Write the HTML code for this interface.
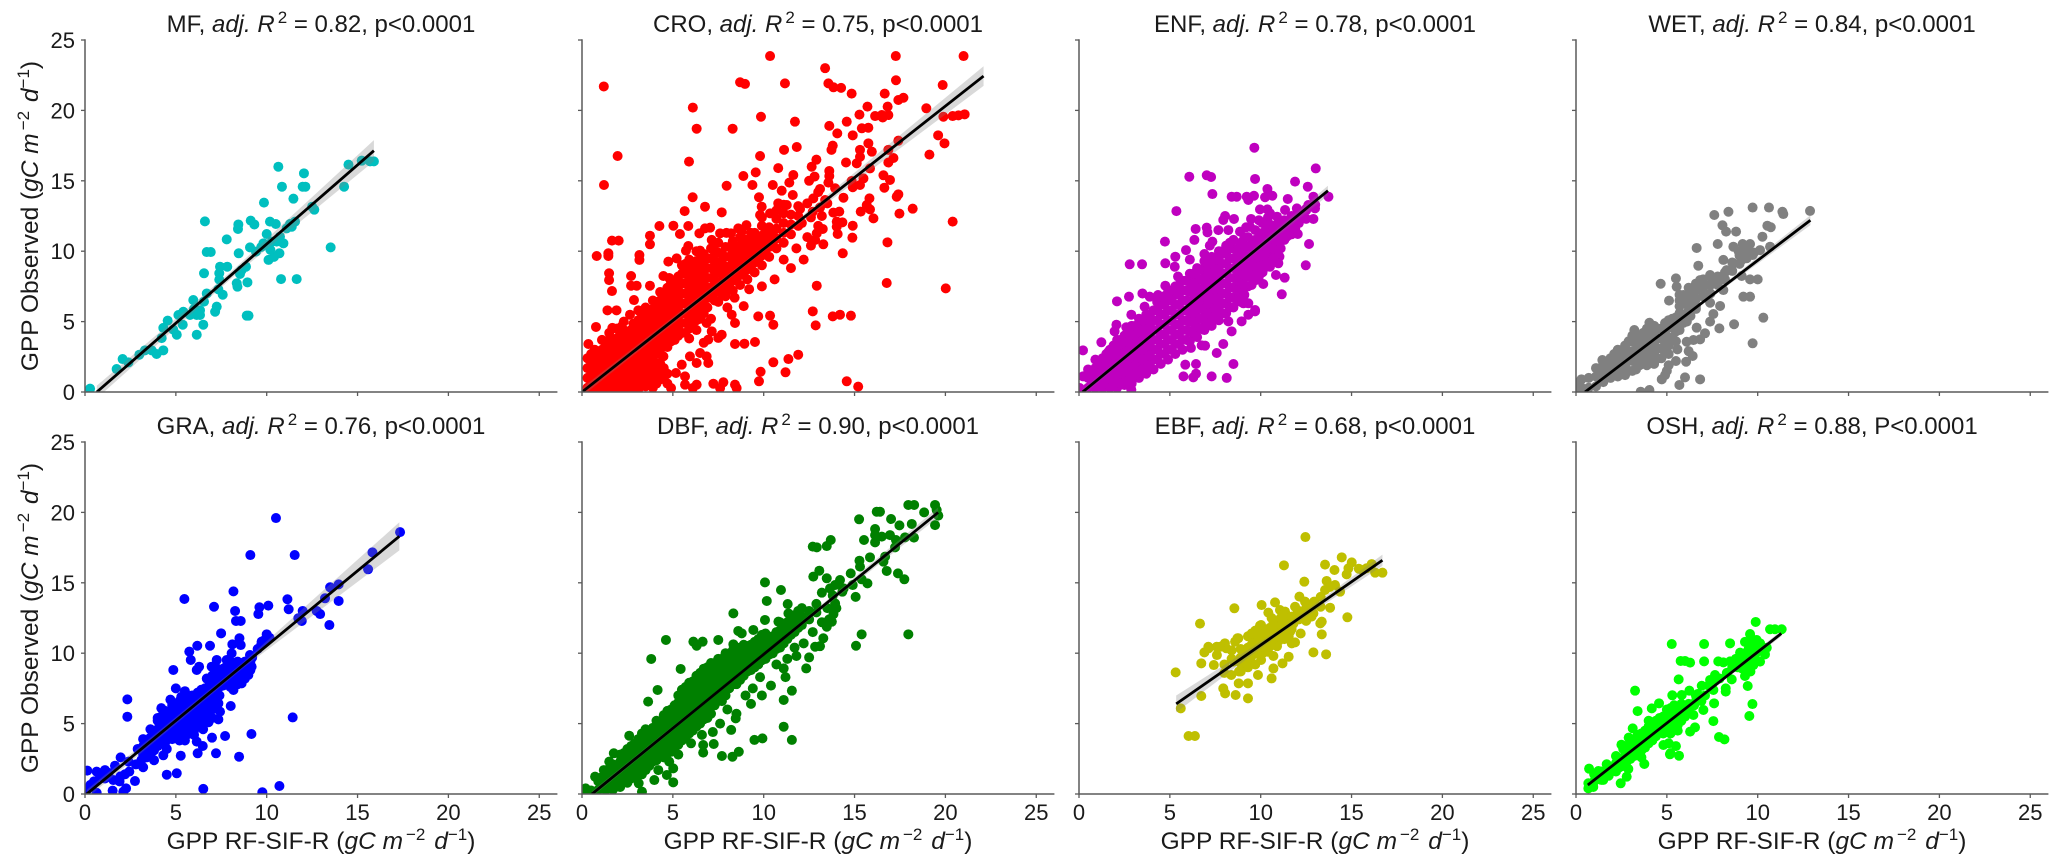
<!DOCTYPE html>
<html lang="en">
<head>
<meta charset="utf-8">
<title>GPP observed versus GPP RF-SIF-R by land cover</title>
<style>
html,body{margin:0;padding:0;background:#fff;}
svg{display:block;font-family:"Liberation Sans",sans-serif;fill:#1a1a1a;}
text{font-size:22px;}
</style>
</head>
<body>
<svg id="chart" width="2067" height="867" viewBox="0 0 2067 867" xmlns="http://www.w3.org/2000/svg"></svg>
<script>
const xTicks = [0,5,10,15,20,25];
const yTicks = [0,5,10,15,20,25];

const mfPoints = [[10.64,16],[12.05,15.53],[10.84,14.58],[11.98,14.58],[12.13,14.58],[11.47,13.73],[9.85,13.45],[12.5,13.16],[12.62,12.95],[14.5,16.15],[14.26,14.58],[15.23,16.43],[15.69,16.38],[15.9,16.38],[13.52,10.27],[6.6,12.12],[8.44,11.9],[8.42,11.58],[9.12,12.17],[9.32,11.9],[10.18,12.1],[10.5,11.93],[11.28,11.93],[11.56,12.1],[11.38,11.74],[11.1,11.62],[10,11.22],[7.8,10.84],[9.82,10.56],[10.73,11.03],[10.55,10.68],[10.92,10.56],[10.28,10.68],[9.08,10.27],[9.41,9.97],[6.7,9.94],[6.92,9.94],[8.46,9.85],[10.7,9.85],[10.4,9.6],[10.1,9.38],[10.2,10.1],[9.7,10.3],[7.43,8.9],[7.83,8.9],[8.86,8.9],[8.62,8.66],[7.39,8.43],[6.55,8.43],[8.53,8.38],[10.79,8.02],[11.65,8.02],[7.39,7.98],[8.35,7.72],[8.94,7.79],[8.39,7.48],[7.34,7.29],[7.58,6.91],[6.7,7],[5.96,6.53],[6.55,6.42],[7.25,6.06],[7.16,5.7],[8.9,5.42],[9,5.42],[5.41,5.7],[5.14,5.47],[5.78,5.47],[6.15,5.47],[6.33,5.47],[4.55,5.07],[6.33,5.8],[6,5.9],[6.51,4.78],[6.15,4.07],[5.05,4.07],[4.86,4.43],[5.38,4.78],[4.31,4.55],[4.22,3.83],[4.31,2.96],[3.94,2.7],[3.67,2.96],[3.3,2.96],[2.99,2.65],[2.39,2.1],[2.07,2.34],[1.74,1.63],[0.28,0.24]];
const mfFitX = [0.65,15.9];
const mfFitY = [0,17.14];
const mfCi = [0.45,0.25,0.75];

const croPoints = [[1.2,21.7],[10.35,23.86],[8.7,22],[8.97,21.88],[11.17,21.92],[6.1,20.2],[9.85,19.55],[11.72,19.2],[6.31,18.7],[8.29,18.7],[1.96,16.76],[9.8,16.76],[11.12,17.2],[11.82,17.4],[5.89,16.36],[10.8,15.9],[9.56,15.6],[8.88,15.34],[1.21,14.7],[7.96,14.65],[9.38,14.7],[10.5,14.7],[11.41,14.87],[11.63,15.41],[10.99,14.3],[6.09,13.83],[6.77,13.16],[5.65,12.85],[7.69,12.76],[9.74,13.83],[9.89,13.16],[9.8,12.57],[10.8,13.4],[11.27,13.28],[10.35,12.69],[11.6,13.99],[4.26,11.79],[5.03,11.81],[5.85,11.79],[5.39,11.22],[3.74,11.1],[3.74,10.49],[6.46,11.27],[6.77,11.62],[7.05,11.67],[7.14,10.8],[7.6,11.27],[7.95,11.3],[8.2,11.27],[8.6,11.62],[9.05,11.85],[8.8,11.4],[9,10.8],[9.3,11.3],[1.65,10.75],[2.02,10.75],[1.45,9.85],[0.81,9.66],[1.45,9.66],[3.16,9.73],[3.16,9.38],[5.85,10.37],[5.72,10.04],[5.21,9.49],[4.75,9.26],[6.5,10.04],[1.49,8.43],[1.49,7.95],[1.65,7.17],[2.7,8.24],[2.7,7.55],[3.01,7.55],[2.86,6.53],[3.74,7.55],[4.48,8.24],[4.8,8.1],[5.6,8.4],[5.85,8.6],
[17.27,23.86],[21,23.86],[13.38,23],[13.56,21.92],[13.84,21.64],[14.26,21.6],[14.84,21.19],[17.28,22.14],[19.85,21.8],[16.66,21.19],[17.69,20.9],[17.41,20.74],[15.71,20.27],[16.82,20.27],[18.95,20.15],[15.27,19.7],[16.13,19.6],[16.5,19.67],[16.86,19.67],[16.55,19.5],[19.89,19.55],[20.4,19.6],[20.72,19.65],[21.06,19.72],[13.61,18.9],[14.57,19.2],[14.05,18.37],[14.9,18.23],[15.4,18.73],[15.76,18.77],[19.6,18.23],[19.95,17.66],[17.41,17.85],[13.8,17.5],[13.73,17.2],[15.76,17.66],[15.3,17.2],[15.95,17.07],[16.86,17.2],[19.12,16.86],[15.3,16.7],[15.12,16.24],[14.53,16.3],[17.14,16.62],[16.86,16.3],[12.9,16.5],[12.64,16],[13.61,15.7],[12.8,15.3],[13.61,15.34],[15.85,15.88],[15.49,15.17],[16.59,15.39],[16.95,15.06],[16.64,14.51],[14.84,14.99],[15.3,14.7],[14.9,14.54],[13.93,14.47],[13.1,14.42],[13.56,14.87],[17.41,14.04],[17.32,13.87],[15.82,13.75],[14.39,13.8],[13.38,13.64],[12.73,13.75],[18.2,13.02],[15.67,13.28],[15.85,12.97],[15.34,12.81],[17.47,12.67],[16.04,12.33],[13.83,12.74],[14.16,12.81],[20.4,12.1],[14.02,12.1],[14.33,12.05],[14.9,11.81],[14.02,11.74],[14.07,11.22],[13.25,11.58],[12.92,11.27],[14.88,10.96],[13.28,10.49],[12.83,10.8],[16.81,10.63],[14.35,9.85],[12.92,7.55],[16.77,7.74],[20.02,7.36],[12.7,12.8],[13.1,13.1],[13.5,13.4],
[0.77,4.62],[0.35,3.41],[1.67,4.55],[2.18,4.66],[2.83,4.85],[3.47,5.02],[2.64,5.49],[1.4,5.8],[1.9,5.8],[6.86,4.9],[7.14,4.31],[7.69,4.07],[7.5,3.84],[6.95,3.72],[8.24,5.49],[8.42,4.9],[8.42,3.41],[8.94,3.43],[9.52,3.55],[9.7,5.37],[10.35,5.42],[10.53,4.78],[10.53,2.11],[11.36,2.34],[11.9,2.65],[9.83,1.44],[11.2,1.4],[9.74,0.76],[6.31,0.52],[6.1,0.28],[7.23,0.59],[7.78,0.69],[7.6,0.28],[8.42,0.52],[8.51,0.28],[5.67,0.52],[4.9,0.28],[6.95,2.06],[6.31,2.06],[6.86,2.53],[6.5,2.77],[5.94,2.53],[5.49,1.94],[5.17,1.35],[5.67,1.11],[4.48,2.53],[4.3,2.05],[14.57,0.76],[15.2,0.38],[13.8,5.37],[14.2,5.49],[14.8,5.42],[12.86,4.73],[12.7,5.73],
[7.4,9.1],[7.8,7.2],[8,8.7],[8,6],[8.1,7.7],[8.4,6.7],[8.9,6.1],[9.2,7.3],[9.9,7.5],[10.6,8],[11.1,9.4],[11.5,8.8],[11.8,10.2],[12.2,9.4],[12.4,11],[12.5,15],[12.6,10.4],[13,11.8],[13,14.2],[13.2,12.5],[12.4,13.4],[12,13],[12.1,12],[12.6,12.4]];
const croCoreColumns = [[0.3,[0.3,1,1.7,2.4]],[0.7,[0.2,0.9,1.6,2.3,3]],[1.1,[0.2,0.9,1.6,2.3,3,3.7]],[1.5,[0.2,0.9,1.6,2.3,3,3.7,4.2]],[1.9,[0.3,1,1.7,2.4,3.1,3.8,4.5]],[2.3,[0.2,0.9,1.6,2.3,3,3.7,4.4,5]],[2.7,[0.3,1,1.7,2.4,3.1,3.8,4.4]],[3.1,[0.2,0.9,1.6,2.3,3,3.7,4.4,5.1,5.8]],[3.5,[0.4,1.1,1.8,2.5,3.2,3.9,4.6,5.3,6]],[3.9,[0.3,1,1.7,2.4,3.1,3.8,4.5,5.2,5.9,6.5]],[4.3,[0.9,1.6,3,3.7,4.4,5.1,5.8,6.5,7.1]],[4.7,[0.6,1.3,3.2,3.9,4.6,5.3,6,6.7,7.4]],[5.1,[3.7,4.4,5.1,5.8,6.5,7.2,7.9]],[5.5,[4.2,4.9,5.6,6.3,7,7.7,8.4,9]],[5.9,[3.8,4.5,5.2,5.9,6.6,7.3,8,8.7,9.4]],[6.3,[4.4,5.1,5.8,6.5,7.2,7.9,8.6,9.3,10]],[6.7,[3.5,5.6,6.3,7,7.7,8.4,9.1,9.8]],[7.1,[5.2,6.7,7.4,8.1,8.8,9.5,10.2]],[7.5,[6.4,7.1,7.8,8.5,9.2,9.9,10.6]],[7.9,[6.8,7.5,8.2,8.9,9.6,10.3]],[8.3,[7.2,7.9,8.6,9.3,10,10.7]],[8.7,[7.6,8.3,9,9.7,10.4,11]],[9.1,[8,8.7,9.4,10.1,10.8]],[9.5,[8.5,9.2,9.9,10.6,11.3]],[9.9,[9,9.7,10.4,11.1,11.8,12.4]],[10.3,[9.6,10.3,11,11.7]],[10.7,[10.2,10.9,11.6,12.3,12.9]],[11.1,[10.6,11.3,12,12.7,13.3]],[11.5,[11.2,11.9,12.6]],[11.9,[11.8,12.5,13.2]]];
const croFillColumns = [[0.5,[0.6,1.3,2,2.7]],[0.9,[0.6,1.3,2,2.7]],[1.3,[0.6,1.3,2,2.7,3.4]],[1.7,[0.6,1.3,2,2.7,3.4]],[2.1,[0.6,1.3,2,2.7,3.4,4.1]],[2.5,[0.6,1.3,2,2.7,3.4,4.1]],[2.9,[0.6,1.3,2,2.7,3.4,4.1,4.8]],[3.3,[0.6,1.3,2,2.7,3.4,4.1,4.8,5.5]],[3.7,[0.7,1.4,2.1,2.8,3.5,4.2,4.9,5.6]],[4.1,[0.6,1.3,2,2.7,3.4,4.1,4.8,5.5,6.2]],[4.5,[1,1.7,3.5,4.2,4.9,5.6,6.3,7]],[4.9,[3.6,4.3,5,5.7,6.4,7.1,7.8]],[5.3,[4,4.7,5.4,6.1,6.8,7.5,8.2]],[5.7,[4.2,4.9,5.6,6.3,7,7.7,8.4,9.1]],[6.1,[4.8,5.5,6.2,6.9,7.6,8.3,9]],[6.5,[5.2,5.9,6.6,7.3,8,8.7,9.4]],[6.9,[6,6.7,7.4,8.1,8.8,9.5]],[7.3,[6.5,7.2,7.9,8.6,9.3,10]],[7.7,[7,7.7,8.4,9.1,9.8]],[8.1,[7.5,8.2,8.9,9.6,10.3]],[8.5,[8,8.7,9.4,10.1]],[8.9,[8.4,9.1,9.8,10.5]],[9.3,[8.8,9.5,10.2,10.9]],[9.7,[9.4,10.1,10.8]],[10.1,[10,10.7,11.4]],[10.5,[10.6,11.3]]];
const croFitX = [0,22.1];
const croFitY = [0,22.44];
const croCi = [0.3,0.15,0.7];

const enfPoints = [[9.65,17.35],[13.03,15.88],[6.07,15.29],[7.03,15.39],[7.27,15.27],[9.69,15.13],[11.89,14.94],[12.59,14.58],[7.34,14.06],[8.4,13.87],[8.68,13.87],[9.23,13.87],[9.63,13.94],[9.32,13.64],[10.37,14.42],[10.64,13.94],[10.24,13.83],[12.9,13.87],[13.73,13.87],[11.49,13.71],[9.96,12.97],[10.37,12.97],[11.34,12.93],[11.99,13.04],[12.62,13.28],[12.99,13.04],[8.04,12.5],[7.94,12.22],[8.53,12.29],[9.47,12.29],[12.9,12.29],[10.51,12.69],[10.9,12.45],[12.26,12.45],[7.03,11.67],[7.07,11.34],[6.42,11.58],[7.67,11.5],[8.22,11.5],[8.86,11.39],[9.41,11.74],[12.04,11.22],[6.35,10.8],[7.34,10.68],[11.16,10.84],[11.39,10.98],[12.66,10.51],[5.89,10.08],[10.6,10.2],[11.03,9.61],[12.48,9],[10.97,9.14],[10.51,8.9],[10.84,8.31],[11.32,8.12],[9.78,8.31],[9.74,7.95],[10.14,7.67],[11.16,6.94],[9.32,6.3],[9.05,6.3],[9.69,5.82],[5.36,12.85],[4.73,10.68],[2.79,9.07],[3.47,9.07],[4.75,9.14],[5.3,9.61],[5.27,8.9],[5.45,8.2],[3.49,7],[2.75,6.77],[2.09,6.44],[4.75,7.55],[4.35,6.89],[3.89,6.77],[3.61,6.06],[0.22,2.96],[1.23,3.53],[1.6,2.82],[2.06,4.78],[1.96,4.31],[2.33,3.72],[2.88,5.49],[3.89,5.37],[2.6,4.6],[2.88,0.17],[0.22,1.11],[0.04,0.28],[8.13,1],[7.3,1.11],[8.5,1.99],[6.44,1.3],[6.29,1.04],[6.44,1.99],[5.85,1.94],[5.75,1.11],[6.94,3.29],[6.75,3.31],[6.16,3.13],[7.58,2.77],[7.94,3.41],[8.4,4.31],[8.95,5.02],[8.22,5.02],[9.69,5.73],[9.32,5.49],[9.9,12.2],[9.2,11.7],[10.4,12.4],[12.5,13],[13,13.3],[6.9,9.8],[6.1,9.4],[7.2,10.4],[7.9,10],[8.3,10.6],[8.8,10.2],[9.1,11],[9.6,10.6],[9.7,11.5]];
const enfCoreColumns = [[0.5,[0.3,1,1.6]],[0.9,[0.3,1,1.7,2.3]],[1.3,[0.3,1,1.7,2.4]],[1.7,[0.3,1,1.7,2.4,3]],[2.1,[0.3,1,1.7,2.4,3.1,3.7]],[2.5,[0.5,1.2,1.9,2.6,3.3,4]],[2.9,[0.6,1.3,2,2.7,3.4,4.1,4.7]],[3.3,[1,1.7,2.4,3.1,3.8,4.5,5.2]],[3.7,[1.3,2,2.7,3.4,4.1,4.8,5.5]],[4.1,[1.6,2.3,3,3.7,4.4,5.1,5.8]],[4.5,[2,2.7,3.4,4.1,4.8,5.5,6.2]],[4.9,[2.3,3,3.7,4.4,5.1,5.8,6.5,7.1]],[5.3,[2.7,3.4,4.1,4.8,5.5,6.2,6.9,7.5]],[5.7,[3,3.7,4.4,5.1,5.8,6.5,7.2,7.9]],[6.1,[3.6,4.3,5,5.7,6.4,7.1,7.8,8.4]],[6.5,[3.9,4.6,5.3,6,6.7,7.4,8.1,8.8]],[6.9,[4.4,5.1,5.8,6.5,7.2,7.9,8.6,9.3]],[7.3,[4.7,5.4,6.1,6.8,7.5,8.2,8.9,9.6]],[7.7,[5.1,5.8,6.5,7.2,7.9,8.6,9.3,10]],[8.1,[5.6,6.3,7,7.7,8.4,9.1,9.8,10.4]],[8.5,[6,6.7,7.4,8.1,8.8,9.5,10.2,10.8]],[8.9,[6.4,7.1,7.8,8.5,9.2,9.9,10.6]],[9.3,[7.5,8.2,8.9,9.6,10.3,11]],[9.7,[8,8.7,9.4,10.1,10.8]],[10.1,[8.5,9.2,9.9,10.6,11.3,12]],[10.5,[9.2,9.9,10.6,11.3,11.9]],[10.9,[9.8,10.5,11.2,11.9]],[11.3,[10.8,11.5,12.2]],[11.7,[11.2,11.9,12.5]],[12.1,[12,12.6]],[12.5,[12.3,12.9]]];
const enfFillColumns = [[0.7,[0.6,1.3]],[1.1,[0.6,1.3,2]],[1.5,[0.6,1.3,2,2.7]],[1.9,[0.6,1.3,2,2.7,3.3]],[2.3,[0.6,1.3,2,2.7,3.4]],[2.7,[0.8,1.5,2.2,2.9,3.6,4.3]],[3.1,[1.2,1.9,2.6,3.3,4,4.7]],[3.5,[1.6,2.3,3,3.7,4.4,5.1]],[3.9,[1.9,2.6,3.3,4,4.7,5.4]],[4.3,[2.3,3,3.7,4.4,5.1,5.8,6.4]],[4.7,[2.7,3.4,4.1,4.8,5.5,6.2,6.8]],[5.1,[3,3.7,4.4,5.1,5.8,6.5,7.2]],[5.5,[3.4,4.1,4.8,5.5,6.2,6.9,7.6]],[5.9,[3.7,4.4,5.1,5.8,6.5,7.2,7.9]],[6.3,[4.2,4.9,5.6,6.3,7,7.7,8.4]],[6.7,[4.5,5.2,5.9,6.6,7.3,8,8.7]],[7.1,[4.9,5.6,6.3,7,7.7,8.4,9.1]],[7.5,[5.2,5.9,6.6,7.3,8,8.7,9.4]],[7.9,[5.6,6.3,7,7.7,8.4,9.1,9.8]],[8.3,[6,6.7,7.4,8.1,8.8,9.5,10.2]],[8.7,[6.5,7.2,7.9,8.6,9.3,10]],[9.1,[6.9,7.6,8.3,9,9.7,10.4]],[9.5,[7.6,8.3,9,9.7,10.4]],[9.9,[8.2,8.9,9.6,10.3,11]],[10.3,[8.9,9.6,10.3,11,11.7]],[10.7,[9.5,10.2,10.9,11.6]],[11.1,[10.2,10.9,11.6]],[11.5,[11.1,11.8]],[11.9,[11.6,12.2]]];
const enfFitX = [0.2,13.7];
const enfFitY = [0,14.3];
const enfCi = [0.2,0.1,0.35];

const wetPoints = [[9.72,13.1],[10.62,13.1],[8.39,12.8],[7.61,12.57],[11.36,12.8],[11.41,12.64],[12.88,12.86],[8.06,11.84],[8.26,11.39],[8.81,11.39],[10.53,11.81],[10.72,11.7],[10.26,11.03],[7.8,10.51],[6.64,10.23],[8.66,10.32],[9.17,10.51],[9.58,10.51],[9.39,10.2],[10.13,10.08],[10.68,10.32],[8.95,10],[9.72,9.73],[8.11,9.38],[9.12,9.38],[6.73,8.97],[8.66,9.14],[8.29,8.66],[5.5,8.07],[5.54,7.48],[4.66,7.69],[9.12,8.24],[9.58,8],[10,8],[7.38,8.31],[6.83,7.95],[7.75,8.1],[8.1,8],[6.45,7.4],[7,7.5],[8.11,7.24],[9.21,6.77],[9.58,6.77],[5.12,6.49],[5.91,6.89],[5.76,6.3],[6.1,6.5],[7.38,6.34],[7.93,6.11],[10.31,5.28],[7.56,5.54],[7.38,5],[8.7,4.81],[7.89,4.52],[6.64,4.57],[7.1,4.17],[6.83,3.74],[9.72,3.46],[6.46,3.69],[6.09,3.57],[5.58,3.03],[6.2,2.9],[6.42,2.56],[6.06,2.15],[4.04,4.92],[3.21,4.4],[1.45,2.27],[2.15,2.63],[6,1.04],[6.83,0.9],[5.69,0.5],[4.72,0.9],[3.56,0.02],[4.04,0.14],[0.1,0.2],[0.2,0.7],[5.5,2.2],[5.1,1.9],[4.9,1.2],[5,1.5]];
const wetCoreColumns = [[0.3,[0.3,0.9]],[0.7,[0.3,1]],[1.1,[0.4,1.1,1.7]],[1.5,[0.7,1.4,2]],[1.9,[1,1.7,2.4]],[2.3,[1.1,1.8,2.5,3]],[2.7,[1.2,1.9,2.6,3.3]],[3.1,[1.5,2.2,2.9,3.6,4]],[3.5,[1.9,2.6,3.3,4]],[3.9,[1.9,2.6,3.3,4,4.5]],[4.3,[2,2.7,3.4,4.1,4.7]],[4.7,[2.4,3.1,3.8,4.5]],[5.1,[2.7,3.3,3.9,4.6,5.1]],[5.5,[3.6,4.3,4.9,5.3]],[5.7,[6.1,6.5,6.9]],[5.9,[4.9,5.4]],[6.2,[6.3,6.9,7.4]],[6.3,[5.4,6,6.6]],[6.6,[6.6,7.2,7.7]],[7,[6.8,7.4,8]],[7.4,[7,7.6,8.2]],[7.8,[7.6,8.2]],[8.2,[8,8.5]],[8.6,[8.6,9.2]],[9,[9.1,9.7]],[9.4,[9.5,10]],[9.8,[9.9]]];
const wetFillColumns = [[1.3,[0.9,1.6]],[1.7,[1.1,1.8]],[2.1,[1.4,2.1,2.7]],[2.5,[1.4,2.1,2.8]],[2.9,[1.5,2.2,2.9,3.6]],[3.3,[1.6,2.3,3,3.7]],[3.7,[2.2,2.9,3.6,4.2]],[4.1,[2.3,3,3.7,4.4]],[4.5,[2.4,3.1,3.8,4.5]],[4.9,[2.8,3.5,4.2,4.9]],[5.3,[3.9,4.6,5.2]],[5.7,[4.4,5,5.6]],[6.1,[5,5.6,6.2]],[6.6,[5.9,6.1]]];
const wetFitX = [0.5,12.9];
const wetFitY = [0,12.2];
const wetCi = [0.2,0.1,0.35];

const graPoints = [[10.51,19.6],[9.1,16.97],[11.54,16.97],[17.34,18.6],[15.82,17.16],[15.58,15.96],[13.96,14.89],[13.49,14.68],[8.17,14.39],[5.47,13.85],[11.14,13.83],[13.21,13.9],[13.96,13.71],[7.1,13.3],[9.6,13.26],[10.09,13.38],[11.21,13.12],[8.26,13],[9.54,12.78],[11.98,13],[12.75,13],[12.94,12.78],[11.74,12.48],[11.93,12.29],[8.31,12.29],[8.57,12.29],[13.45,12],[7.49,11.41],[10,11.34],[8.5,11.06],[9.72,10.82],[8.11,10.63],[8.57,10.58],[6.18,10.53],[6.88,10.53],[5.74,10.11],[10.15,11.1],[9.85,10.9],[2.33,6.72],[2.33,5.49],[11.43,5.44],[4.86,8.81],[5.82,9.52],[6.28,9.04],[6.15,8.81],[8.07,9.99],[7.25,9.52],[6.97,9.04],[7.8,9.52],[9.08,9.87],[9.17,9.04],[8.53,8.21],[8.99,8.45],[8.62,7.86],[8.17,7.39],[8.02,6.25],[7.34,6.44],[7.43,5.85],[7.34,5.3],[7.71,4.12],[9.16,4.26],[6.99,4],[8.48,2.65],[7.21,2.89],[6.48,3.41],[6.2,2.89],[6.15,3.72],[5.27,2.72],[4.31,2.75],[4.5,3.2],[5.05,1.47],[4.5,1.37],[2.75,0.92],[6.51,0.36],[10.7,0.57],[9.76,0.12],[2.26,0.4],[2.11,0.17],[1.52,0.24],[0.64,0.09],[0.13,1.66],[0.64,1.59],[1.1,1.7],[1.65,2.01],[1.96,2.6],[2.44,1.59],[1.95,1.25],[1.56,0.99],[0.83,1.23],[0.3,0.65],[0.1,0.28],[0.5,0.9],[1.1,1.1],[1.3,1.5],[1.9,0.9],[2.2,1.4],[2.4,2.3],[2.8,2.1],[2.9,3.2],[3.1,2.4],[3.2,1.9],[3.4,2.6],[3.8,2.4],[4,5.4],[4.2,6.1],[4.7,6.7],[5,7.5],[5.3,6.9],[5.5,7.3],[5.9,7],[6.4,7.4],[6.7,8.2],[7,7.8],[7.3,8.4],[7.6,7.9],[8,7.6],[8.4,9.4],[9.2,9.7],[9.5,10.3],[9.7,10.6],[5.5,3.8],[6,4.2],[6.5,4.6]];
const graCoreColumns = [[3.2,[2.8,3.4,3.9]],[3.6,[2.8,3.4,4,4.6]],[4,[3.4,4,4.6,5.2]],[4.4,[3.6,4.2,4.8,5.4,5.9]],[4.8,[3.9,4.5,5.1,5.7,6.3]],[5.2,[3.8,4.4,5,5.6,6.2,6.6]],[5.6,[4.2,4.8,5.4,6,6.6]],[6,[4.5,5.1,5.7,6.3,6.9]],[6.4,[4.8,5.4,6,6.6,7.2]],[6.8,[5.1,5.7,6.3,7.5,8.1]],[7.2,[6.7,7.3,7.9,8.5,9]],[7.6,[7.7,8.3,8.9]],[8,[8.3,8.9,9.4]],[8.4,[7.8,8.4,9]],[8.8,[8.2,8.8,9.4]],[9.1,[8.8,9.4]]];
const graFillColumns = [[3.4,[3.1,3.7]],[3.8,[3.1,3.7,4.3]],[4.2,[3.7,4.3,4.9,5.5]],[4.6,[3.9,4.5,5.1,5.7]],[5,[4.2,4.8,5.4,6]],[5.4,[4.1,4.7,5.3,5.9,6.5]],[5.8,[4.5,5.1,5.7,6.3,6.9]],[6.2,[4.8,5.4,6,6.6,7.2]],[6.6,[5.1,5.7,6.3,6.9,7.5]],[7,[5.4,6,6.6,7.2,7.8,8.4]],[7.4,[7,7.6,8.2,8.8]],[7.8,[7.9,8.5,9.1]],[8.2,[8.1,8.7,9.3]],[8.6,[8.4,9]]];
const graFitX = [0.1,17.3];
const graFitY = [0,18.3];
const graCi = [0.3,0.2,1];

const dbfPoints = [[17.96,20.53],[18.28,20.53],[19.43,20.53],[19.52,20.17],[19.61,19.77],[19.43,19.1],[18.83,20],[16.22,20.05],[16.4,20.05],[15.25,19.51],[17.01,19.53],[17.47,19.08],[18.15,19.18],[16.13,18.82],[16.13,18.39],[16.5,18.28],[16.95,18.39],[16.13,17.87],[15.52,18.04],[17.28,18.04],[17.78,18.23],[18.27,18.21],[13.69,18.04],[13.47,17.61],[12.92,17.52],[12.7,17.57],[17.23,17.52],[16.68,16.86],[15.85,16.81],[15.27,16.57],[16.59,16.5],[15.3,16.15],[14.79,15.67],[16.77,15.84],[17.39,15.67],[17.74,15.25],[13.06,15.86],[12.73,15.44],[13.47,15.32],[15.39,15.25],[15.71,14.96],[14.9,14.84],[13.93,14.84],[14.33,14.37],[15.06,14],[13.65,14.6],[13.2,14.3],[13.93,13.54],[13.84,12.78],[13.75,12.24],[13.47,11.88],[15.39,11.34],[17.96,11.34],[13.28,11.06],[15.08,10.53],[12.83,10.46],[10.07,15.03],[10.95,14.49],[10.17,13.71],[8.33,12.83],[11.32,13.49],[4.62,10.94],[6.13,10.82],[6.64,10.82],[7.5,10.94],[6.31,10.53],[8.33,10.63],[8.6,11.58],[8.79,11.41],[10.07,12.36],[10.81,12.24],[11.36,12.83],[9.43,11.65],[3.81,9.59],[5.43,8.88],[12.34,8.92],[11.1,8.92],[4.16,7.39],[3.64,6.56],[11.55,7.34],[11.1,6.68],[11.1,4.78],[11.55,3.84],[9.93,3.95],[9.49,3.84],[8.46,5.37],[8.21,4.55],[8.63,3],[8.28,2.65],[7.7,2.7],[7.25,3.55],[6.67,3.48],[6.67,2.94],[2.6,4.14],[5.02,0.83],[5.02,1.82],[4.67,1.35],[3.98,0.99],[3.3,0.17],[3.12,0.76],[1.75,2.89],[1.5,2.3],[0.72,1.23],[0.2,0.4],[0.1,0.15],[0.5,0.25],[1,1],[1.2,1.7],[9,7],[9.3,6.4],[9.4,7.5],[9.9,7],[9.8,8.3],[10.4,7.7],[10.7,9.2],[11.2,8.3],[11.3,9.6],[11.7,10.4],[11.8,9.8],[12.2,10.7],[12.5,9.7],[12.7,11.5],[13.1,10.5],[13.2,12.2],[13.6,12.4],[14,13.2],[14.2,15.2],[14.4,14.6],[13.8,14.1],[13.5,13.2],[8.5,5.7],[8,6],[7.2,4.4],[7.6,5],[6.6,4.2],[6,3.6],[5.3,2.8],[4.8,2.3],[4.2,1.7]];
const dbfCoreColumns = [[0.9,[0.3,0.9]],[1.3,[0.3,0.9,1.5]],[1.7,[0.3,0.9,1.5,2.1]],[2.1,[0.5,1.1,1.7,2.3,2.8]],[2.5,[0.8,1.4,2,2.6,3.2]],[2.9,[1.2,1.8,2.4,3,3.6]],[3.3,[1.4,2,2.6,3.2,3.8,4.3]],[3.7,[2,2.6,3.2,3.8,4.4]],[4.1,[2.4,3,3.6,4.2,4.8,5.2]],[4.5,[2.6,3.2,3.8,4.4,5,5.6]],[4.9,[3,3.6,4.2,4.8,5.4,6]],[5.3,[3.5,4.1,4.7,5.3,5.9,6.5,7]],[5.7,[4,4.6,5.2,5.8,6.4,7,7.6]],[6.1,[4.5,5.1,5.7,6.3,6.9,7.5,8]],[6.5,[5,5.6,6.2,6.8,7.4,8,8.6]],[6.9,[5.4,6,6.6,7.2,7.8,8.4,9]],[7.3,[6.3,6.9,7.5,8.1,8.7,9.3]],[7.7,[6.6,7.2,7.8,8.4,9,9.6]],[8.1,[7.5,8.1,8.7,9.3,9.9]],[8.5,[7.8,8.4,9,9.6,10.2]],[8.9,[8.4,9,9.6,10.2,10.6]],[9.3,[8.8,9.4,10,10.6]],[9.7,[9.2,9.8,10.4,11]],[10.1,[9.6,10.2,10.8,11.4]],[10.5,[10,10.6,11.2]],[10.9,[10.4,11,11.6,12.2]],[11.3,[11,11.6,12.2]],[11.7,[11.5,12.1,12.7]],[12.1,[12,12.6,13.2]],[12.5,[12.4,13]],[12.9,[12.9,13.5]]];
const dbfFillColumns = [[1.1,[0.6,1.2]],[1.5,[0.6,1.2,1.8]],[1.9,[0.8,1.4,2]],[2.3,[1.1,1.7,2.3,2.9]],[2.7,[1.1,1.7,2.3,2.9,3.4]],[3.1,[1.5,2.1,2.7,3.3,3.9]],[3.5,[1.7,2.3,2.9,3.5,4.1,4.6]],[3.9,[2.3,2.9,3.5,4.1,4.7]],[4.3,[2.7,3.3,3.9,4.5,5.1]],[4.7,[2.9,3.5,4.1,4.7,5.3,5.9]],[5.1,[3.3,3.9,4.5,5.1,5.7,6.3]],[5.5,[3.8,4.4,5,5.6,6.2,6.8,7.4]],[5.9,[4.3,4.9,5.5,6.1,6.7,7.3,7.9]],[6.3,[4.8,5.4,6,6.6,7.2,7.8,8.4]],[6.7,[5.3,5.9,6.5,7.1,7.7,8.3,8.9]],[7.1,[5.7,6.3,6.9,7.5,8.1,8.7,9.3]],[7.5,[6.6,7.2,7.8,8.4,9,9.6]],[7.9,[7,7.6,8.2,8.8,9.4,10]],[8.3,[7.8,8.4,9,9.6,10.2]],[8.7,[8.1,8.7,9.3,9.9,10.4]],[9.1,[8.7,9.3,9.9,10.5]],[9.5,[9,9.6,10.2,10.8]],[9.9,[9.5,10.1,10.7,11.3]],[10.3,[9.9,10.5,11.1]],[10.7,[10.3,10.9,11.5]],[11.1,[10.7,11.3,11.9]],[11.5,[11.3,11.9,12.5]],[11.9,[11.8,12.4,13]]];
const dbfFitX = [0.55,19.6];
const dbfFitY = [0,20];
const dbfCi = [0.2,0.1,0.35];

const ebfPoints = [[12.46,18.25],[14.46,16.81],[13.54,16.29],[14.06,15.91],[15.01,16.45],[14.83,16.03],[14.73,15.6],[16.11,16.33],[15.83,16.03],[16.3,15.72],[16.7,15.72],[11.28,16.24],[12.4,15.08],[13.63,15.13],[14.09,14.84],[13.54,14.49],[14.37,14.37],[13.8,14.7],[12.13,14.02],[10.79,13.61],[10.05,13.42],[12.94,13.66],[8.55,13.19],[11.89,13.3],[12.44,13.66],[13.82,13.23],[11.06,13.07],[10.42,12.88],[11.34,12.95],[12.9,12.83],[14.77,12.55],[11.43,12.31],[13.36,12.24],[12.44,12.48],[10.7,12.12],[9.96,11.96],[6.66,12.1],[13.36,11.34],[11.89,10.77],[11.62,11.53],[8.77,11.06],[8.59,10.82],[9.87,11.29],[8.03,10.7],[7.12,10.46],[7.58,10.46],[5.32,8.64],[5.6,6.08],[6.03,4.12],[6.38,4.12],[6.73,9.28],[6.73,6.96],[7.14,10.35],[6.9,10.06],[8.1,10.35],[7.59,9.87],[7.42,9.16],[8.52,9.4],[7.76,10.46],[7.94,7.5],[8.04,7.15],[8.62,7.03],[9.3,6.79],[9.3,7.86],[8.79,7.86],[8.38,8.45],[9.85,8.45],[10.6,8.21],[10.7,8.92],[11.2,9.28],[12.9,10.06],[13.6,9.92],[11.71,10.7],[11.54,9.75],[8.72,11.06],[9.85,11.41],[10.02,12],[10.13,10.46],[9.5,9.99],[10.02,9.52],[9,9.28],[11.03,11.65],[11.54,11.17],[13.28,12.12],[10.3,11.1],[10.6,11.5],[10.4,10.1],[10.7,9.8],[10.9,10.5],[9.6,10.7],[9.2,10.1],[8.8,8.7],[9.3,9],[10.6,12.5],[11.1,12.2],[11.8,12.1],[12.2,11.4],[12,12.8],[12.8,12.6],[12.4,13],[11.4,11.7],[11,10.9],[10.1,11.6],[15.4,16],[15.6,15.9]];
const ebfCoreColumns = [[8,[8.6,9.2]],[8.4,[9.6,10.2]],[8.9,[9.7,10.3]],[9.3,[9.5,10.4,11.2]],[9.7,[9.2,10,10.8,11.6]],[10.1,[10,10.8]],[10.5,[10.5,11.2,11.8]],[10.9,[11.3,12]],[11.3,[11,12.2,12.8]],[11.7,[11.7,12.6]],[12.1,[12.4,13]],[12.5,[12.3,13.2]],[12.9,[13.4]],[13.3,[13.3,14]]];
const ebfFillColumns = [[8.9,[8.7,9.3]],[9.5,[9.8,10.6,11.4]],[9.9,[10.4,11.2]],[10.3,[10.4,11.6]],[10.7,[11,12]],[11.1,[11.5,12.5]]];
const ebfFitX = [5.35,16.7];
const ebfFitY = [6.4,16.6];
const ebfCi = [0.6,0.15,0.4];

const oshPoints = [[9.89,12.22],[10.68,11.7],[10.95,11.7],[11.32,11.7],[9.58,11.36],[8.48,10.7],[5.27,10.65],[7.05,10.65],[9.3,10.8],[9.94,10.94],[10.13,10.7],[10.5,10.39],[9.6,10.8],[9.03,10.04],[10.4,9.92],[5.76,9.45],[6,9.45],[6.28,9.33],[7.05,9.42],[7.83,9.42],[8.11,9.35],[8.48,9.42],[10.13,9.4],[9.76,9.16],[9.12,8.93],[9.3,8.38],[7.65,8.45],[7.38,8.1],[5.65,8.14],[8.57,8.14],[6.92,7.69],[9.45,7.67],[8.24,7.5],[8.24,7.27],[3.25,7.34],[6.24,7.34],[7.56,7.39],[5.82,7.03],[5.3,7.01],[4.57,6.44],[4.17,6.08],[3.39,5.89],[9.71,6.39],[7.6,6.44],[7.01,5.97],[9.54,5.54],[6.46,5.61],[7.56,5.18],[6.55,4.73],[6.28,4.43],[7.87,4.05],[8.17,3.88],[5.6,4.5],[3.12,4.66],[3.76,2.13],[5.67,2.72],[5.17,2.82],[4.81,3.48],[0.72,1.8],[1.69,2.11],[1.23,1.63],[2.46,0.76],[2.79,1.23],[2.88,1.78],[0.68,0.76],[0.68,0.4],[0.95,0.5],[1.5,1],[3.2,2.8],[3.6,2.6],[5.1,3.6],[5.2,2.9],[5.5,3.4],[7.1,7],[7.3,7.7],[7.5,8.1],[7.9,8.2],[8.3,8.6],[8.6,9],[8.8,9.6],[9.4,8.9],[9.6,8.7],[6.5,6.3],[6.7,7.1],[6.9,6.6],[2.5,3.5],[2.9,4],[3.4,4.2],[4,5.2]];
const oshCoreColumns = [[1,[0.9,1.4]],[1.4,[1,1.6]],[1.8,[1.3,1.9]],[2.2,[1.6,2.2,2.7]],[2.6,[2,2.6,3.2]],[3,[2.5,3.1,3.7]],[3.4,[2.9,3.5,4.1]],[3.8,[3.3,3.9,4.5]],[4.2,[3.8,4.4,5]],[4.6,[4.4,5,5.4]],[5,[4.4,5,5.6,6]],[5.4,[4.6,5.2,5.8,6.3]],[5.8,[5.2,5.8,6.4]],[6.2,[5.8,6.4]],[6.6,[6.6,7]],[8.9,[9,9.6]],[9.3,[9.3,10]],[9.7,[9.6,10.2,10.8]],[10.1,[10.2,10.7]]];
const oshFillColumns = [[2.4,[1.9,2.5]],[2.8,[2.3,2.9,3.4]],[3.2,[2.7,3.3,3.9]],[3.6,[3.1,3.7,4.3]],[4,[3.6,4.2,4.8]],[4.4,[4.1,4.7,5.2]],[4.8,[4.3,4.9,5.5]],[5.2,[4.3,4.9,5.5,6.1]],[5.6,[4.9,5.5,6.1]],[6,[5.5,6.1]],[9.1,[9.3,9.9]],[9.5,[9.6,10.3]],[9.9,[10,10.5]]];
const oshFitX = [0.65,11.3];
const oshFitY = [0.64,11.4];
const oshCi = [0.15,0.08,0.2];

const panelNames = ["MF","CRO","ENF","WET","GRA","DBF","EBF","OSH"];
const panelStats = ["0.82","0.75","0.78","0.84","0.76","0.90","0.68","0.88"];
const panelPLabels = ["p<0.0001","p<0.0001","p<0.0001","p<0.0001","p<0.0001","p<0.0001","p<0.0001","P<0.0001"];
const panelColors = ["#00bfbf","#ff0000","#bf00bf","#808080","#0000ff","#008000","#bfbf00","#00ff00"];
const panelPoints = [mfPoints,croPoints,enfPoints,wetPoints,graPoints,dbfPoints,ebfPoints,oshPoints];
const panelCores = [[],croCoreColumns,enfCoreColumns,wetCoreColumns,graCoreColumns,dbfCoreColumns,ebfCoreColumns,oshCoreColumns];
const panelFills = [[],croFillColumns,enfFillColumns,wetFillColumns,graFillColumns,dbfFillColumns,ebfFillColumns,oshFillColumns];
const panelFitX = [mfFitX,croFitX,enfFitX,wetFitX,graFitX,dbfFitX,ebfFitX,oshFitX];
const panelFitY = [mfFitY,croFitY,enfFitY,wetFitY,graFitY,dbfFitY,ebfFitY,oshFitY];
const panelCi = [mfCi,croCi,enfCi,wetCi,graCi,dbfCi,ebfCi,oshCi];

const NS = "http://www.w3.org/2000/svg";
const root = document.getElementById("chart");
const LEFT = [85,582,1079,1576];
const BOTTOM = [392,794];
const PX_X = 18.17;
const PX_Y = 14.08;
const X_MAX = 26;
const Y_MAX = 25;
const AXIS = "#5a5a5a";
const TITLE_STYLE = "font-size:24px";
const LABEL_STYLE = "font-size:24.5px";

function xScale(col,v){return LEFT[col]+v*PX_X;}
function yScale(row,v){return BOTTOM[row]-v*PX_Y;}
function make(tag,attrs,parent){
  const el=document.createElementNS(NS,tag);
  for(const k in attrs){el.setAttribute(k,attrs[k]);}
  parent.appendChild(el);
  return el;
}
function addRun(parent,str,opts){
  const t=make("tspan",opts||{},parent);
  t.textContent=str;
  return t;
}
function addUnits(el){
  addRun(el,"gC m",{"font-style":"italic"});
  addRun(el,"\u22122",{"font-size":"17","dy":"-9","dx":"3"});
  addRun(el," d",{"font-style":"italic","dy":"9","dx":"2"});
  addRun(el,"\u22121",{"font-size":"17","dy":"-9"});
  addRun(el,")",{"dy":"9"});
}
function drawPoint(parent,col,row,px,py,color){
  const c=make("circle",{cx:xScale(col,px),cy:yScale(row,py),r:5,fill:color},parent);
  
  
}
function drawColumns(parent,col,row,columns,color){
  columns.forEach(function(column){
    column[1].forEach(function(yValue){
      drawPoint(parent,col,row,column[0],yValue,color);
    });
  });
}

panelNames.forEach(function(name,i){
  const row=i<4?0:1;
  const col=i%4;
  const g=make("g",{},root);
  
  

  const clipId="clip-"+i;
  const defs=make("defs",{},g);
  const clip=make("clipPath",{id:clipId},defs);
  make("rect",{x:xScale(col,0),y:yScale(row,Y_MAX),width:X_MAX*PX_X,height:Y_MAX*PX_Y},clip);

  const plot=make("g",{"clip-path":"url(#"+clipId+")"},g);
  
  

  panelPoints[i].forEach(function(p){
    drawPoint(plot,col,row,p[0],p[1],panelColors[i]);
  });
  drawColumns(plot,col,row,panelCores[i],panelColors[i]);
  drawColumns(plot,col,row,panelFills[i],panelColors[i]);

  const fx=panelFitX[i],fy=panelFitY[i],ci=panelCi[i];
  const midX=(fx[0]+fx[1])/2,midY=(fy[0]+fy[1])/2;
  const up=[[fx[0],fy[0]+ci[0]],[midX,midY+ci[1]],[fx[1],fy[1]+ci[2]]];
  const dn=[[fx[1],fy[1]-ci[2]],[midX,midY-ci[1]],[fx[0],fy[0]-ci[0]]];
  const bandPts=up.concat(dn).map(function(p){return xScale(col,p[0])+","+yScale(row,p[1]);}).join(" ");
  const band=make("polygon",{points:bandPts,fill:"rgba(128,128,128,0.3)"},plot);
  
  

  const line=make("line",{x1:xScale(col,fx[0]),y1:yScale(row,fy[0]),x2:xScale(col,fx[1]),y2:yScale(row,fy[1]),stroke:"#000","stroke-width":2.8},plot);
  
  

  const yAxis=make("line",{x1:xScale(col,0),y1:yScale(row,0)+0.75,x2:xScale(col,0),y2:yScale(row,Y_MAX)-0.75,stroke:AXIS,"stroke-width":1.5},g);
  
  
  const xAxis=make("line",{x1:xScale(col,0),y1:yScale(row,0),x2:xScale(col,X_MAX),y2:yScale(row,0),stroke:AXIS,"stroke-width":1.5},g);
  
  

  yTicks.forEach(function(v){
    const t=make("line",{x1:xScale(col,0)-4,x2:xScale(col,0),y1:yScale(row,v),y2:yScale(row,v),stroke:AXIS,"stroke-width":1.3},g);
    
    
    if(col===0){
      const l=make("text",{x:xScale(col,0)-10,y:yScale(row,v)+8,"text-anchor":"end"},g);
      l.textContent=String(v);
      
      
    }
  });
  xTicks.forEach(function(v){
    const t=make("line",{x1:xScale(col,v),x2:xScale(col,v),y1:yScale(row,0),y2:yScale(row,0)+4,stroke:AXIS,"stroke-width":1.3},g);
    
    
    if(row===1){
      const l=make("text",{x:xScale(col,v),y:yScale(row,0)+26,"text-anchor":"middle"},g);
      l.textContent=String(v);
      
      
    }
  });

  const title=make("text",{x:xScale(col,0)+236,y:yScale(row,Y_MAX)-8,"text-anchor":"middle",style:TITLE_STYLE},g);
  
  
  addRun(title,name+", ");
  addRun(title,"adj. R",{"font-style":"italic"});
  addRun(title,"2",{"font-size":"17","dy":"-9","dx":"3"});
  addRun(title," = "+panelStats[i]+", "+panelPLabels[i],{"dy":"9"});

  if(row===1){
    const xl=make("text",{x:xScale(col,0)+236,y:yScale(row,0)+55,"text-anchor":"middle",style:LABEL_STYLE},g);
    
    
    addRun(xl,"GPP RF-SIF-R (");
    addUnits(xl);
  }
  if(col===0){
    const cy=(yScale(row,0)+yScale(row,Y_MAX))/2;
    const yl=make("text",{x:0,y:0,"text-anchor":"middle",transform:"translate(38,"+cy+") rotate(-90)",style:LABEL_STYLE},g);
    
    
    addRun(yl,"GPP Observed (");
    addUnits(yl);
  }
});
</script>
</body>
</html>
